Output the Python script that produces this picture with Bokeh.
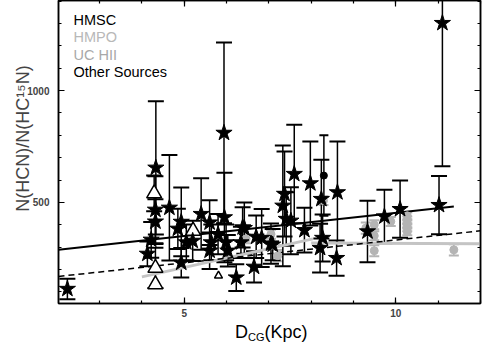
from bokeh.plotting import figure
from bokeh.models import (Range1d, LinearAxis, FixedTicker, Whisker, TeeHead,
                          ColumnDataSource, Label, Div)
from bokeh.layouts import column
from bokeh.embed import file_html
from bokeh.resources import INLINE

# ---- HMSC (stars) ----
star_x = [2.24, 4.33, 4.32, 4.32, 4.22, 4.13, 4.65, 4.93, 4.85, 4.93, 5.05, 5.20,
          5.40, 5.60, 5.64, 5.60, 5.80, 5.94, 5.95, 5.99, 6.03, 6.23, 6.38, 6.34,
          6.65, 6.42, 6.70, 6.83, 7.05, 7.33, 7.37, 7.41, 7.52, 7.60, 7.84, 7.98,
          8.27, 8.21, 8.24, 8.62, 8.60, 7.09, 9.33, 9.73, 10.10, 11.02, 11.10]
star_y = [113, 655, 467, 414, 333, 270, 476, 413, 382, 230, 321, 328,
          448, 410, 321, 284, 358, 811, 433, 321, 284, 164, 388, 321,
          212, 385, 346, 341, 316, 485, 538, 426, 418, 627, 376, 585,
          341, 296, 515, 545, 251, 311, 370, 437, 470, 488, 1302]
star_err = [46, 298, 150, 100, 80, 55, 236, 154, 90, 66, 80, 90,
            160, 100, 80, 82, 90, 404, 200, 80, 70, 60, 90, 70,
            70, 115, 95, 130, 90, 270, 190, 120, 150, 220, 100, 188,
            105, 109, 176, 227, 79, 70, 137, 120, 128, 130, 640]

# ---- Other sources (open triangles) ----
tri_x = [4.29, 4.32, 4.32, 5.21, 5.81]
tri_y = [540, 207, 133, 373, 172]
tri_err = [80, 90, 0, 0, 0]
tri_size = [15, 15, 15, 15, 8]

# ---- HMPO (grey circles) ----
grey_x = [9.29, 9.49, 9.49, 9.49, 9.88, 10.27, 10.27, 10.27, 10.27, 10.27,
          11.37, 7.21, 7.05, 6.46, 8.29]
grey_y = [385, 400, 351, 284, 415, 440, 422, 404, 386, 368,
          288, 262, 358, 337, 508]
grey_err = [25, 20, 20, 25, 20, 15, 15, 15, 15, 15,
            25, 25, 20, 20, 20]

# ---- filled black dot ----
dot_x = [8.30]
dot_y = [620]
dot_err = [180]

# ---- fit lines ----
fit_solid_x = [2.03, 11.37]
fit_solid_y = [288, 482]
fit_dash_x = [2.03, 12.0]
fit_dash_y = [169, 373]
fit_grey1_x = [4.0, 8.04]
fit_grey1_y = [167, 337]
fit_grey2_x = [8.0, 12.0]
fit_grey2_y = [318, 315]

# ---- ticks ----
x_major = [5, 10]
x_minor = list(range(2, 13))
y_major = [500, 1000]
y_minor = list(range(100, 1500, 100))

FONT = "Liberation Sans"

p = figure(width=482, height=320, x_range=Range1d(2.03, 12.0), y_range=Range1d(48, 1403),
           output_backend="svg", toolbar_location=None,
           min_border_left=58, min_border_right=2, min_border_top=0, min_border_bottom=17)
p.grid.visible = False
p.outline_line_color = "black"
p.outline_line_width = 1.5
p.background_fill_color = "white"
p.border_fill_color = "white"

p.xaxis.ticker = FixedTicker(ticks=x_major, minor_ticks=x_minor)
p.yaxis.ticker = FixedTicker(ticks=y_major, minor_ticks=y_minor)


def style_axis(ax):
    ax.axis_line_color = "black"
    ax.axis_line_width = 1.5
    ax.major_tick_in = 6
    ax.major_tick_out = 0
    ax.minor_tick_in = 3
    ax.minor_tick_out = 0
    ax.major_tick_line_width = 1.2
    ax.minor_tick_line_width = 1.2
    ax.major_tick_line_color = "black"
    ax.minor_tick_line_color = "black"
    ax.major_label_text_font = FONT
    ax.major_label_text_font_style = "bold"
    ax.major_label_text_font_size = "10px"


for ax in p.xaxis:
    style_axis(ax)
    ax.major_label_standoff = 5
for ax in p.yaxis:
    style_axis(ax)
    ax.major_label_standoff = 9
    # leading spaces shift the rotated label upward, as in the original
    ax.axis_label = "\u2003\u2002N(HCN)/N(HC\u00b9\u2075N)"
    ax.axis_label_text_font = FONT
    ax.axis_label_text_font_style = "normal"
    ax.axis_label_text_font_size = "18px"
    ax.axis_label_standoff = -9

blank_x = {t: "" for t in x_major}
blank_y = {t: "" for t in y_major}
top_ax = LinearAxis(ticker=FixedTicker(ticks=x_major, minor_ticks=x_minor))
style_axis(top_ax)
top_ax.major_label_overrides = blank_x
top_ax.major_label_standoff = 0
p.add_layout(top_ax, "above")
right_ax = LinearAxis(ticker=FixedTicker(ticks=y_major, minor_ticks=y_minor))
style_axis(right_ax)
right_ax.major_label_overrides = blank_y
right_ax.major_label_standoff = 0
p.add_layout(right_ax, "right")

# fit lines
p.line(fit_grey1_x, fit_grey1_y, line_color="#c4c4c4", line_width=3)
p.line(fit_grey2_x, fit_grey2_y, line_color="#c4c4c4", line_width=3)
p.line(fit_dash_x, fit_dash_y, line_color="black", line_width=1.5, line_dash="6 4")
p.line(fit_solid_x, fit_solid_y, line_color="black", line_width=2)

# grey points with error bars
gsrc = ColumnDataSource(dict(x=grey_x, y=grey_y,
                             lo=[a - b for a, b in zip(grey_y, grey_err)],
                             hi=[a + b for a, b in zip(grey_y, grey_err)]))
p.add_layout(Whisker(base="x", lower="lo", upper="hi", source=gsrc,
                     line_color="#b4b4b4", line_width=1.5,
                     upper_head=TeeHead(size=10, line_color="#b4b4b4", line_width=2),
                     lower_head=TeeHead(size=10, line_color="#b4b4b4", line_width=2)))
p.scatter("x", "y", source=gsrc, marker="circle", size=8, fill_color="#b4b4b4",
          line_color="#b4b4b4")

# star error bars
ssrc = ColumnDataSource(dict(x=star_x, y=star_y,
                             lo=[a - b for a, b in zip(star_y, star_err)],
                             hi=[a + b for a, b in zip(star_y, star_err)]))
p.add_layout(Whisker(base="x", lower="lo", upper="hi", source=ssrc,
                     line_color="black", line_width=1.5,
                     upper_head=TeeHead(size=16, line_color="black", line_width=2),
                     lower_head=TeeHead(size=16, line_color="black", line_width=2)))

tsrc_all = ColumnDataSource(dict(x=tri_x, y=tri_y, s=tri_size))
te = [(x, y, e) for x, y, e in zip(tri_x, tri_y, tri_err) if e > 0]
tsrc_err = ColumnDataSource(dict(x=[t[0] for t in te],
                                 lo=[t[1] - t[2] for t in te],
                                 hi=[t[1] + t[2] for t in te]))
p.add_layout(Whisker(base="x", lower="lo", upper="hi", source=tsrc_err,
                     line_color="black", line_width=1.5,
                     upper_head=TeeHead(size=16, line_color="black", line_width=2),
                     lower_head=TeeHead(size=16, line_color="black", line_width=2)))

dsrc = ColumnDataSource(dict(x=dot_x, y=dot_y,
                             lo=[a - b for a, b in zip(dot_y, dot_err)],
                             hi=[a + b for a, b in zip(dot_y, dot_err)]))
p.add_layout(Whisker(base="x", lower="lo", upper="hi", source=dsrc,
                     line_color="black", line_width=1.5,
                     upper_head=TeeHead(size=9, line_color="black", line_width=2),
                     lower_head=TeeHead(size=9, line_color="black", line_width=2)))

p.scatter("x", "y", source=tsrc_all, marker="triangle", size="s", fill_color="white",
          line_color="black", line_width=1.5)
p.scatter("x", "y", source=dsrc, marker="circle", size=7, fill_color="black",
          line_color="black")
p.scatter("x", "y", source=ssrc, marker="star", size=17, fill_color="black",
          line_color="black")

# legend texts (text-only legend, top-left inside the frame)
legend_items = [("HMSC", "black"), ("HMPO", "#b8b8b8"), ("UC HII", "#a8a8a8"),
                ("Other Sources", "black")]
for i, (txt, col) in enumerate(legend_items):
    p.add_layout(Label(x=15, y=284 - i * 17.6, x_units="screen", y_units="screen",
                       text=txt, text_color=col, text_font=FONT,
                       text_font_size="14.5px", text_baseline="alphabetic"))

# x axis label with subscript, as HTML below the plot
xlabel = Div(
    text=('<div style="position:relative; top:-3px; left:230px; white-space:nowrap; '
          'font-family:\'Liberation Sans\', Arial, sans-serif; font-size:18px; '
          'line-height:20px; color:black;">D<span style="font-size:11px; '
          'position:relative; top:3px;">CG</span>(Kpc)</div>'),
    width=482, height=26)

layout = column(p, xlabel, spacing=0)
open("out.html", "w").write(file_html(layout, INLINE))
